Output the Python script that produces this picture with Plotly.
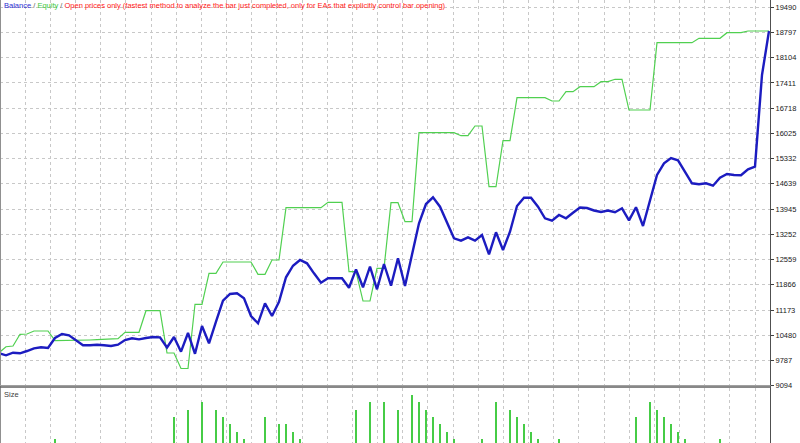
import plotly.graph_objects as go

# ---- data ----
trade_index = list(range(111))

balance = [
    9984, 9929, 10000, 9984, 10047, 10121, 10149, 10129, 10404, 10514,
    10478, 10349, 10204, 10204, 10220, 10204, 10184, 10220, 10349, 10396,
    10368, 10404, 10432, 10423, 10143, 10432, 10028, 10542, 9970, 10734,
    10259, 10852, 11429, 11613, 11632, 11495, 11009, 10808, 11357, 11009,
    11401, 12072, 12390, 12547, 12456, 12181, 11923, 12044, 12044, 12044,
    11786, 12291, 11797, 12363, 11742, 12437, 11841, 12594, 11833, 12684,
    13555, 14085, 14269, 14011, 13599, 13143, 13077, 13170, 13077, 13234,
    12703, 13308, 12822, 13324, 14030, 14258, 14258, 14011, 13692, 13626,
    13783, 13692, 13846, 13989, 13975, 13907, 13865, 13907, 13860, 13967,
    13637, 13995, 13481, 14148, 14882, 15203, 15349, 15286, 14964, 14654,
    14629, 14654, 14588, 14805, 14909, 14882, 14876, 15038, 15110, 17629,
    18837,
]

equity = [
    10000, 10165, 10184, 10506, 10514, 10596, 10596, 10596, 10330, 10330,
    10330, 10330, 10341, 10349, 10357, 10368, 10368, 10385, 10561, 10561,
    10561, 11154, 11154, 11154, 9992, 9992, 9566, 9566, 11330, 11330,
    12181, 12181, 12492, 12492, 12492, 12492, 12492, 12154, 12154, 12547,
    12547, 13984, 13984, 13984, 13984, 13984, 13984, 14132, 14132, 14132,
    12225, 12225, 11420, 11420, 12319, 12319, 14121, 14121, 13599, 13599,
    16044, 16044, 16044, 16044, 16044, 16044, 15961, 15961, 16228, 16228,
    14560, 14560, 15824, 15824, 17005, 17005, 17005, 17005, 17005, 16914,
    16914, 17170, 17170, 17307, 17307, 17307, 17445, 17445, 17511, 17511,
    16667, 16667, 16667, 16667, 18516, 18516, 18516, 18516, 18516, 18516,
    18637, 18637, 18637, 18637, 18791, 18791, 18791, 18837, 18837, 18837,
    18837,
]

size_index = [8, 25, 27, 29, 31, 32, 33, 34, 35, 38, 40, 41, 42, 43, 51, 53, 55,
              57, 59, 60, 61, 62, 63, 64, 65, 69, 71, 73, 74, 75, 76, 77, 80,
              91, 93, 94, 95, 96, 97, 98, 103]
size_values = [0.1, 0.4, 0.5, 0.6, 0.5, 0.4, 0.3, 0.2, 0.1, 0.4, 0.3, 0.3, 0.2,
               0.1, 0.5, 0.6, 0.6, 0.5, 0.7, 0.6, 0.5, 0.4, 0.3, 0.2, 0.1, 0.1,
               0.6, 0.5, 0.4, 0.3, 0.2, 0.1, 0.1, 0.4, 0.6, 0.5, 0.4, 0.3, 0.2,
               0.1, 0.1]

y_ticks = [9094, 9787, 10480, 11173, 11866, 12559, 13252, 13945, 14639, 15332,
           16025, 16718, 17411, 18104, 18797, 19490]
y_tick_labels = [str(v) for v in y_ticks]

header = ('<span style="color:#2a2ad0">Balance</span>'
          '<span style="color:#606060"> / </span>'
          '<span style="color:#3cc83c">Equity</span>'
          '<span style="color:#606060"> / </span>'
          '<span style="color:#ff2020">Open prices only (fastest method to analyze the bar just '
          'completed, only for EAs that explicitly control bar opening)</span>')

# ---- layout helpers ----
W, H, PW = 800, 443, 770
FONT = "Liberation Sans Narrow, Liberation Sans, Arial, sans-serif"
GRID = "#c8c8c8"


def px(x):
    return x / PW


def py(y):
    return (H - y) / H


fig = go.Figure()
fig.add_trace(go.Scatter(x=trade_index, y=equity, mode="lines",
                         line=dict(color="#50d050", width=1.2),
                         name="Equity", xaxis="x", yaxis="y"))
fig.add_trace(go.Scatter(x=trade_index, y=balance, mode="lines",
                         line=dict(color="#1c1cc0", width=2.4),
                         name="Balance", xaxis="x", yaxis="y"))
fig.add_trace(go.Bar(x=size_index, y=size_values, width=0.22,
                     marker=dict(color="#46cc46", line=dict(width=0)),
                     name="Size", xaxis="x2", yaxis="y2"))

xcommon = dict(range=[1 / 7, 771 / 7], showgrid=True, gridcolor=GRID,
               griddash="3px,3px", gridwidth=1, tick0=26.17 / 7, dtick=25.17 / 7,
               showticklabels=False, ticks="", zeroline=False, showline=False,
               fixedrange=True)

fig.update_layout(
    width=W, height=H,
    margin=dict(l=0, r=30, t=0, b=0, pad=0),
    paper_bgcolor="white", plot_bgcolor="white",
    showlegend=False,
    bargap=0,
    xaxis=dict(domain=[0, 1], anchor="y", **xcommon),
    xaxis2=dict(domain=[0, 1], anchor="y2", matches="x", **xcommon),
    yaxis=dict(domain=[py(385.7), 1], range=[9094, 19689], side="right",
               tickvals=y_ticks, ticktext=y_tick_labels,
               tickfont=dict(family=FONT, size=7.5, color="#202020"),
               ticks="outside", ticklen=3, tickcolor="#404040",
               showgrid=True, gridcolor=GRID, griddash="3px,3px",
               zeroline=False, showline=False, automargin=False,
               fixedrange=True),
    yaxis2=dict(domain=[0, py(388)], range=[0.0486, 0.792], side="right",
                showticklabels=False, ticks="", showgrid=False,
                zeroline=False, showline=False, automargin=False,
                fixedrange=True),
    shapes=[
        dict(type="line", xref="paper", yref="paper", x0=px(0.5), x1=px(0.5),
             y0=0, y1=1, line=dict(color="#909090", width=1)),
        dict(type="line", xref="paper", yref="paper", x0=px(770.5), x1=px(770.5),
             y0=0, y1=1, line=dict(color="#505050", width=1)),
        dict(type="line", xref="paper", yref="paper", x0=0, x1=px(770.5),
             y0=py(385.5), y1=py(385.5), line=dict(color="#a0a0a0", width=1)),
        dict(type="line", xref="paper", yref="paper", x0=0, x1=px(770.5),
             y0=py(387), y1=py(387), line=dict(color="#606060", width=1.5)),
    ],
    annotations=[
        dict(text=header, xref="paper", yref="paper", x=px(2), y=py(5),
             xanchor="left", yanchor="middle", showarrow=False,
             font=dict(family=FONT, size=7.5)),
        dict(text="Size", xref="paper", yref="paper", x=px(2), y=py(394),
             xanchor="left", yanchor="middle", showarrow=False,
             font=dict(family=FONT, size=7.5, color="#404040")),
    ],
)

fig.write_html("out.html",
               config={"displayModeBar": False},
               post_script="document.body.style.margin='0';"
                           "document.documentElement.style.overflow='hidden';")
